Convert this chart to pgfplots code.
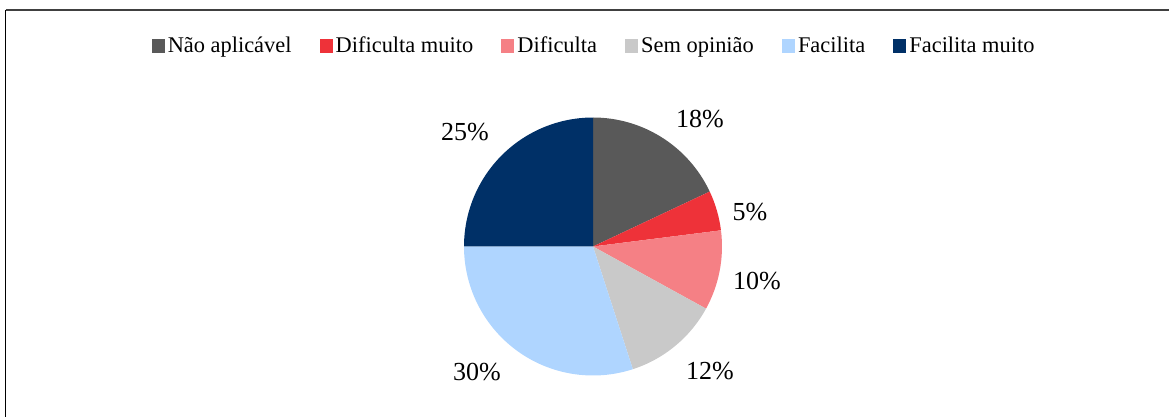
\documentclass[border=0pt]{standalone}
\usepackage{fontspec}
\setmainfont{Liberation Serif}
\usepackage{pgfplots}
\usepackage{pgfplotstable}
\pgfplotsset{compat=1.18}

\definecolor{c1}{HTML}{595959}
\definecolor{c2}{HTML}{EE3239}
\definecolor{c3}{HTML}{F58085}
\definecolor{c4}{HTML}{C9C9C9}
\definecolor{c5}{HTML}{AFD5FF}
\definecolor{c6}{HTML}{003067}

% share (%), slice colour, label centre (x, y from the top)
\pgfplotstableread[col sep=comma]{
value,color,lx,ly
18,c1,700,119
5,c2,750,212
10,c3,757,281
12,c4,710,371
30,c5,477,372
25,c6,465,132
}\piedata

\pgfplotsset{
  sq legend/.style={legend image code/.code={\fill[##1, draw=none] (0pt,-3.3pt) rectangle (6.6pt,3.3pt);}},
}

\begin{document}
\begin{tikzpicture}
\useasboundingbox (0,0) rectangle (584.5pt,208.5pt);
\begin{axis}[
  at={(0,0)}, anchor=south west,
  scale only axis, width=584.5pt, height=208.5pt,
  xmin=0, xmax=1169, ymin=0, ymax=417, y dir=reverse,
  hide axis, clip=false,
  legend columns=6,
  legend style={
    at={(0.5073,0.8897)}, anchor=center,
    draw=none, fill=none, inner sep=0pt,
    font=\fontsize{11.2}{13}\selectfont,
    nodes={inner sep=0pt},
    /tikz/every odd column/.append style={column sep=1.5pt},
    /tikz/every even column/.append style={column sep=14pt},
  },
]
% frame
\draw[line width=0.6pt, black] (axis cs:5.5,417) -- (axis cs:5.5,10);
\draw[line width=0.8pt, black!75] (axis cs:5.5,10) -- (axis cs:1169,10);

\addlegendimage{sq legend, fill=c1}
\addlegendentry{Não aplicável}
\addlegendimage{sq legend, fill=c2}
\addlegendentry{Dificulta muito}
\addlegendimage{sq legend, fill=c3}
\addlegendentry{Dificulta}
\addlegendimage{sq legend, fill=c4}
\addlegendentry{Sem opinião}
\addlegendimage{sq legend, fill=c5}
\addlegendentry{Facilita}
\addlegendimage{sq legend, fill=c6}
\addlegendentry{Facilita muito}

% slices, clockwise from the top
\pgfplotstablegetrowsof{\piedata}
\pgfmathtruncatemacro{\nrows}{\pgfplotsretval-1}
\gdef\angstart{90}
\pgfplotsforeachungrouped \i in {0,...,\nrows}{%
  \pgfplotstablegetelem{\i}{value}\of\piedata \let\val\pgfplotsretval
  \pgfplotstablegetelem{\i}{color}\of\piedata \let\col\pgfplotsretval
  \pgfplotstablegetelem{\i}{lx}\of\piedata \let\lx\pgfplotsretval
  \pgfplotstablegetelem{\i}{ly}\of\piedata \let\ly\pgfplotsretval
  \pgfmathsetmacro{\angend}{\angstart-3.6*\val}%
  \edef\slice{\noexpand\fill[\col] (axis cs:593,246.5) -- ++(\angstart:64.5pt)
     arc[start angle=\angstart, end angle=\angend, radius=64.5pt] -- cycle;}%
  \slice
  \edef\lab{\noexpand\node[font=\noexpand\fontsize{13}{15}\noexpand\selectfont, inner sep=0pt]
     at (axis cs:\lx,\ly) {\val\noexpand\%};}%
  \lab
  \global\let\angstart\angend
}
\end{axis}
\end{tikzpicture}
\end{document}
